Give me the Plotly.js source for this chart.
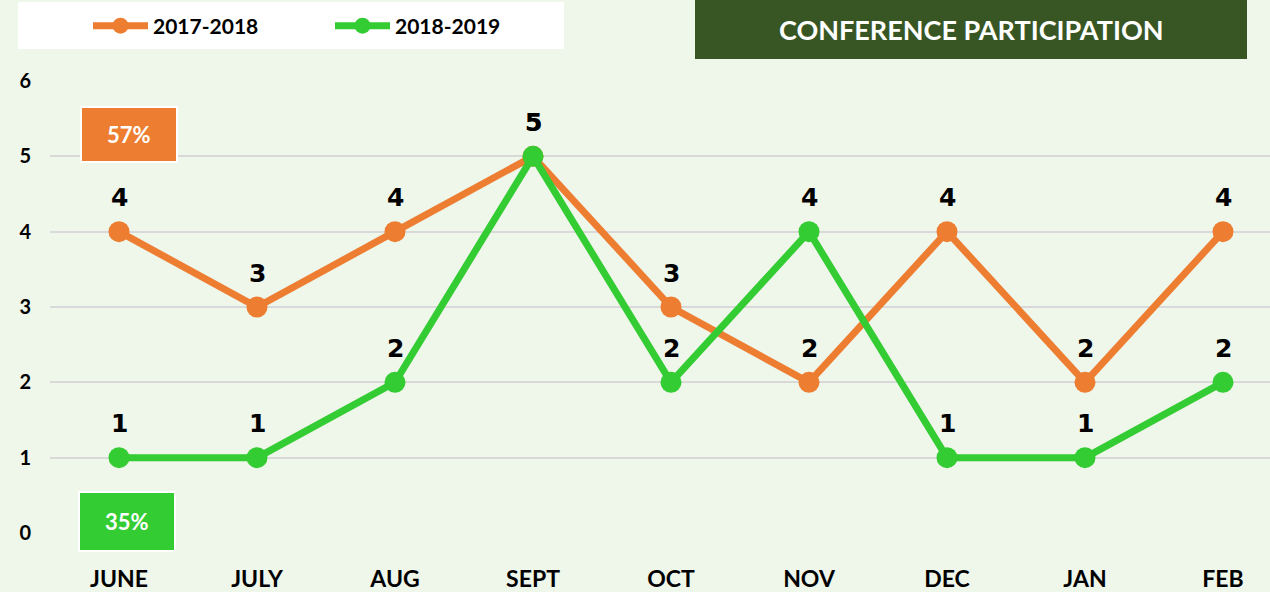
<!DOCTYPE html>
<html>
<head>
<meta charset="utf-8">
<script src="https://cdn.plot.ly/plotly-3.0.1.min.js"></script>
<style>html,body{margin:0;padding:0;background:#EFF6EA;}</style>
</head>
<body>
<div id="chart" style="width:1270px;height:592px;"></div>
<script>
const months = ['JUNE','JULY','AUG','SEPT','OCT','NOV','DEC','JAN','FEB'];
const s1Name = '2017-2018';
const s2Name = '2018-2019';
const s1Values = [4,3,4,5,3,2,4,2,4];
const s2Values = [1,1,2,5,2,4,1,1,2];
const s1Pct = '57%';
const s2Pct = '35%';
const chartTitle = 'CONFERENCE PARTICIPATION';

const ORANGE = '#ED7D31', GREEN = '#33CC33', DARK = '#375623', BG = '#EFF6EA';
const W = 1270, H = 592, L = 50, R = 0, T = 81, B = 59;
const PW = W - L - R, PH = H - T - B;
const px = x => (x - L) / PW;
const py = y => (H - B - y) / PH;
const FONT = 'Lato, "Open Sans", sans-serif';
const LABEL_FONT = '"Arial Black", "DejaVu Sans", sans-serif';

function trace(name, vals, color) {
  return {
    type: 'scatter', mode: 'lines+markers', name: name,
    x: months, y: vals,
    line: {color: color, width: 7},
    marker: {color: color, size: 21},
    cliponaxis: false, hoverinfo: 'skip'
  };
}
const data = [trace(s1Name, s1Values, ORANGE), trace(s2Name, s2Values, GREEN)];

const annotations = [];
[s1Values, s2Values].forEach(vals => {
  vals.forEach((v, i) => {
    annotations.push({
      x: months[i], y: v, xref: 'x', yref: 'y', text: String(v),
      showarrow: false, yshift: 34, yanchor: 'middle',
      font: {family: LABEL_FONT, size: 25, color: '#000', weight: 'bold'}
    });
  });
});
annotations.push({
  x: px(971), y: py(29.5), xref: 'paper', yref: 'paper', text: chartTitle,
  showarrow: false, xanchor: 'center', yanchor: 'middle',
  font: {family: FONT, size: 27, color: '#FFFFFF', weight: 'bold'}
});
annotations.push({
  x: px(129), y: py(134.5), xref: 'paper', yref: 'paper', text: s1Pct,
  showarrow: false, xanchor: 'center', yanchor: 'middle',
  font: {family: FONT, size: 22, color: '#FFFFFF', weight: 'bold'}
});
annotations.push({
  x: px(127), y: py(521.5), xref: 'paper', yref: 'paper', text: s2Pct,
  showarrow: false, xanchor: 'center', yanchor: 'middle',
  font: {family: FONT, size: 22, color: '#FFFFFF', weight: 'bold'}
});

function rect(x0, y0, x1, y1, fill, line) {
  return {type: 'rect', xref: 'paper', yref: 'paper', layer: 'above',
    x0: px(x0), x1: px(x1), y0: py(y1), y1: py(y0),
    fillcolor: fill, line: line ? {color: '#FFFFFF', width: 2} : {width: 0}};
}
const shapes = [
  rect(18, 2, 564, 49, '#FFFFFF', false),
  rect(695, 0, 1247, 59, DARK, false),
  rect(81, 107, 177, 162, ORANGE, true),
  rect(79, 492, 175, 551, GREEN, true)
];

const layout = {
  width: W, height: H,
  margin: {l: L, r: R, t: T, b: B, pad: 0},
  paper_bgcolor: BG, plot_bgcolor: BG,
  font: {family: FONT, color: '#000'},
  showlegend: true,
  legend: {
    orientation: 'h', x: px(88), y: py(26), xanchor: 'left', yanchor: 'middle',
    bgcolor: 'rgba(0,0,0,0)', borderwidth: 0,
    font: {family: FONT, size: 21, color: '#000', weight: 'bold'},
    entrywidth: 172, entrywidthmode: 'pixels', itemwidth: 55
  },
  xaxis: {
    type: 'category', range: [-0.5, (W - R - L) / 138 - 0.5],
    showgrid: false, zeroline: false, showline: false, ticks: '',
    ticklabelstandoff: 30,
    tickfont: {family: FONT, size: 23, color: '#000', weight: 'bold'},
    fixedrange: true
  },
  yaxis: {
    range: [0, 6], dtick: 1, tick0: 0,
    showgrid: true, gridcolor: '#D9D9D9', gridwidth: 2,
    zeroline: false, showline: false, ticks: '',
    ticklabelstandoff: 18,
    tickfont: {family: FONT, size: 20, color: '#000', weight: 'bold'},
    fixedrange: true
  },
  shapes: shapes,
  annotations: annotations
};

Plotly.newPlot('chart', data, layout, {staticPlot: true, displayModeBar: false});
</script>
</body>
</html>
